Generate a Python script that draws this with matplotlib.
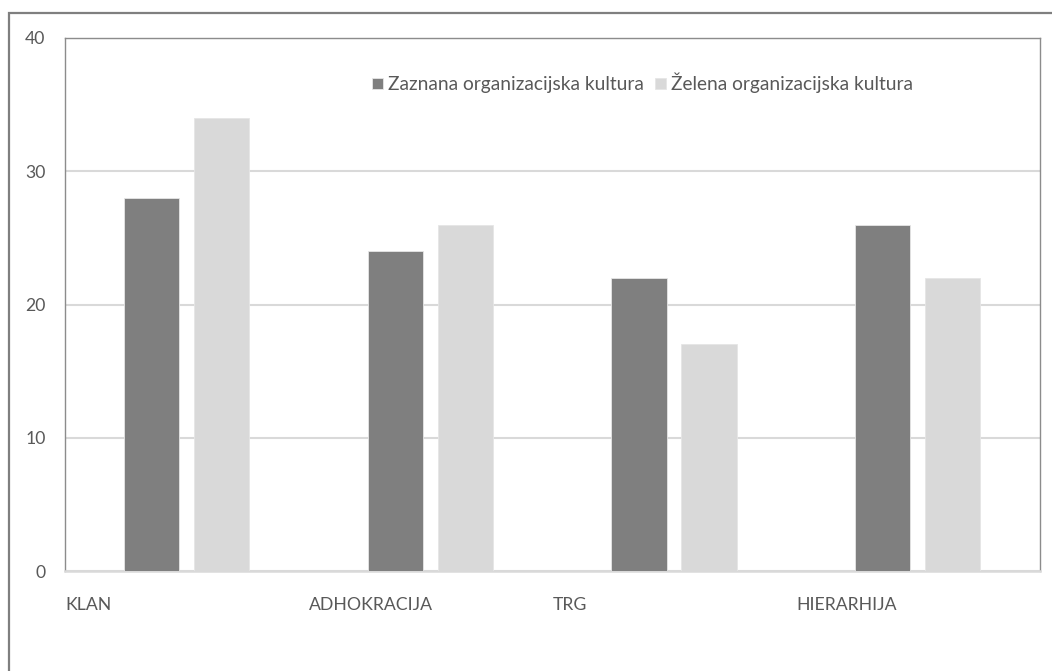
import numpy as np
import matplotlib
matplotlib.use("Agg")
import matplotlib.pyplot as plt
from matplotlib.patches import Rectangle

# Data
categories = ["KLAN", "ADHOKRACIJA", "TRG", "HIERARHIJA"]
series_names = ["Zaznana organizacijska kultura", "Želena organizacijska kultura"]
zaznana = [28, 24, 22, 26]
zelena = [34, 26, 17, 22]
y_ticks = [0, 10, 20, 30, 40]

dark = "#7f7f7f"
light = "#d9d9d9"
text_col = "#595959"

plt.rcParams["font.family"] = ["Lato", "DejaVu Sans"]
plt.rcParams["font.size"] = 12.7

W, H = 1052, 671
fig = plt.figure(figsize=(W / 100, H / 100), dpi=100)

# outer chart frame (extends past the right and bottom edges)
fig.patches.append(Rectangle((9 / W, -0.05), 1.2, 1 - 13 / H + 0.05,
                             transform=fig.transFigure, fill=False,
                             edgecolor="#7f7f7f", linewidth=1.6, zorder=0))

ax = fig.add_axes([65 / W, 1 - 571 / H, (1040 - 65) / W, (571 - 38) / H])

x = np.arange(len(categories))
bar_w = 0.226
ax.bar(x + 0.242, zaznana, width=bar_w, align="edge", color=dark,
       edgecolor="#e6e6e6", linewidth=0.6, label=series_names[0], zorder=3)
ax.bar(x + 0.529, zelena, width=bar_w, align="edge", color=light,
       edgecolor="#e6e6e6", linewidth=0.6, label=series_names[1], zorder=3)

ax.set_xlim(0, len(categories))
ax.set_ylim(0, 40)
ax.set_yticks(y_ticks)
ax.set_xticks(x)
ax.set_xticklabels(categories, ha="left")
ax.tick_params(axis="x", length=0, pad=19, colors=text_col)
ax.tick_params(axis="y", length=0, pad=14, colors=text_col)

ax.yaxis.grid(True, color=light, linewidth=1.5, zorder=0)
ax.set_axisbelow(True)

for side in ("top", "left", "right"):
    ax.spines[side].set_color("#8c8c8c")
    ax.spines[side].set_linewidth(1.0)
ax.spines["bottom"].set_color(light)
ax.spines["bottom"].set_linewidth(1.8)

leg = ax.legend(loc="center left", bbox_to_anchor=((372 - 65) / 975, (571 - 83) / 533),
                ncol=2, frameon=False, fontsize=13.8,
                handlelength=0.58, handleheight=0.58,
                handletextpad=0.28, columnspacing=0.55, borderpad=0, borderaxespad=0)
for t in leg.get_texts():
    t.set_color(text_col)

fig.savefig("out.png", dpi=100)
